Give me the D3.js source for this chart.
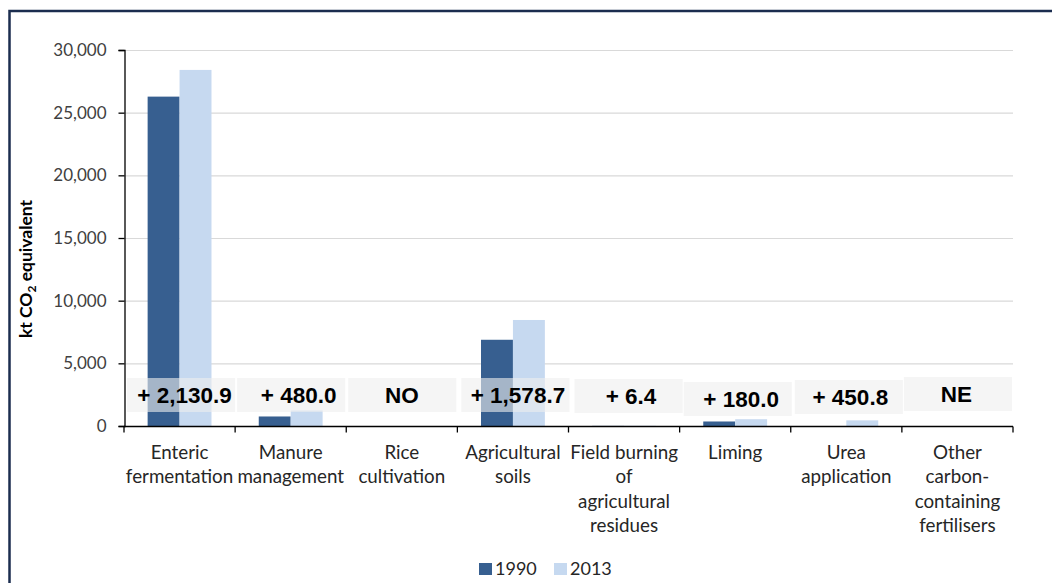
<!DOCTYPE html>
<html>
<head>
<meta charset="utf-8">
<script src="https://cdn.jsdelivr.net/npm/d3@7"></script>
<style>
  html, body { margin: 0; padding: 0; background: #fff; }
  svg { display: block; }
</style>
</head>
<body>
<svg id="chart" width="1052" height="583"></svg>
<script>
// Agricultural emissions by source category, kt CO2 equivalent
const categories = [
  "Enteric\nfermentation",
  "Manure\nmanagement",
  "Rice\ncultivation",
  "Agricultural\nsoils",
  "Field burning\nof\nagricultural\nresidues",
  "Liming",
  "Urea\napplication",
  "Other\ncarbon-\ncontaining\nfertilisers"
];
const seriesNames = ["1990", "2013"];
const values1990 = [26280, 760, 0, 6880, 10, 360, 0, 0];
const values2013 = [28410.9, 1240, 0, 8458.7, 16.4, 540, 450.8, 0];
const changeLabels = ["+ 2,130.9", "+ 480.0", "NO", "+ 1,578.7", "+ 6.4", "+ 180.0", "+ 450.8", "NE"];
const yTicks = [0, 5000, 10000, 15000, 20000, 25000, 30000];

const colors = { "1990": "#375f90", "2013": "#c6d9f0" };
const axisFont = "Lato, 'Open Sans', sans-serif";

const svg = d3.select("#chart");
const plot = { left: 124, right: 1013, top: 50, bottom: 426 };

// Outer frame
svg.append("rect")
  .attr("x", 9.5).attr("y", 11)
  .attr("width", 1200).attr("height", 700)
  .attr("fill", "none")
  .attr("stroke", "#1b2d4f")
  .attr("stroke-width", 2.5);

const x0 = d3.scaleBand()
  .domain(d3.range(categories.length))
  .range([plot.left, plot.right])
  .padding(0);

const x1 = d3.scaleBand()
  .domain(seriesNames)
  .range([0, x0.bandwidth()])
  .paddingInner(0)
  .paddingOuter(0.74);

const y = d3.scaleLinear()
  .domain([0, 30000])
  .range([plot.bottom, plot.top]);

// Horizontal gridlines
svg.append("g")
  .selectAll("line")
  .data(yTicks.filter(t => t > 0))
  .join("line")
  .attr("x1", plot.left).attr("x2", plot.right)
  .attr("y1", d => y(d) + 0.5).attr("y2", d => y(d) + 0.5)
  .attr("stroke", "#d9d9d9")
  .attr("stroke-width", 1.2);

// Bars
const rows = categories.map((c, i) => ({
  i,
  vals: [
    { key: "1990", v: values1990[i] },
    { key: "2013", v: values2013[i] }
  ]
}));

const groups = svg.append("g")
  .selectAll("g")
  .data(rows)
  .join("g")
  .attr("transform", d => `translate(${x0(d.i)},0)`);

groups.selectAll("rect")
  .data(d => d.vals)
  .join("rect")
  .attr("x", d => x1(d.key))
  .attr("width", x1.bandwidth())
  .attr("y", d => y(d.v))
  .attr("height", d => y(0) - y(d.v))
  .attr("fill", d => colors[d.key]);

// Y axis
const yAxis = d3.axisLeft(y)
  .tickValues(yTicks)
  .tickFormat(d3.format(","))
  .tickSize(6)
  .tickPadding(12);

const gy = svg.append("g")
  .attr("transform", `translate(${plot.left + 0.5},0)`)
  .call(yAxis);
gy.select(".domain").attr("stroke", "#000").attr("stroke-width", 1.3);
gy.selectAll(".tick line").attr("stroke", "#000").attr("stroke-width", 1.3);
gy.selectAll(".tick text")
  .attr("font-family", axisFont)
  .attr("font-size", 17)
  .attr("fill", "#404040");

// X axis with ticks at category boundaries
const gx = svg.append("g")
  .attr("transform", `translate(0,${plot.bottom + 0.5})`);
gx.append("line")
  .attr("x1", plot.left).attr("x2", plot.right)
  .attr("stroke", "#000").attr("stroke-width", 1.3);
const boundaries = d3.range(categories.length + 1).map(i =>
  i < categories.length ? x0(i) : x0(categories.length - 1) + x0.bandwidth());
gx.selectAll(".bt")
  .data(boundaries)
  .join("line")
  .attr("class", "bt")
  .attr("x1", d => d).attr("x2", d => d)
  .attr("y1", 0).attr("y2", 6)
  .attr("stroke", "#000").attr("stroke-width", 1.3);

// Category labels
const catText = gx.selectAll(".cat")
  .data(categories)
  .join("text")
  .attr("class", "cat")
  .attr("x", (d, i) => x0(i) + x0.bandwidth() / 2)
  .attr("y", 32)
  .attr("text-anchor", "middle")
  .attr("font-family", axisFont)
  .attr("font-size", 18.8)
  .attr("fill", "#262626");
catText.each(function(d) {
  const t = d3.select(this);
  d.split("\n").forEach((line, k) => {
    t.append("tspan")
      .attr("x", t.attr("x"))
      .attr("dy", k === 0 ? 0 : 24.5)
      .text(line);
  });
});

// Y axis title
const yTitle = svg.append("text")
  .attr("transform", "translate(32,269) rotate(-90)")
  .attr("text-anchor", "middle")
  .attr("font-family", axisFont)
  .attr("font-size", 17.5)
  .attr("font-weight", "bold")
  .attr("fill", "#000");
yTitle.append("tspan").text("kt CO");
yTitle.append("tspan").attr("font-size", 12).attr("dy", 4).text("2");
yTitle.append("tspan").attr("dy", -4).text(" equivalent");

// Change labels (1990 to 2013) in translucent boxes
const nudgeX = [1, 0, 0, 2, 4, 2, 2, 0];
const nudgeY = [0, 0, 0, 0, 1, 4, 2, -1];
const textDx = [4, 8, 0, 3, 3, 4, 2, -1];
const labels = svg.append("g")
  .selectAll("g")
  .data(changeLabels)
  .join("g")
  .attr("transform", (d, i) => `translate(${x0(i) + nudgeX[i]},${378 + nudgeY[i]})`);
labels.append("rect")
  .attr("x", 2)
  .attr("width", x0.bandwidth() - 3)
  .attr("height", 34)
  .attr("fill", "#eeeeee")
  .attr("fill-opacity", 0.6);
labels.append("text")
  .attr("x", (d, i) => x0.bandwidth() / 2 + textDx[i])
  .attr("y", 25)
  .attr("text-anchor", "middle")
  .attr("font-family", "'Liberation Sans', Arial, sans-serif")
  .attr("font-weight", "bold")
  .attr("font-size", 22.5)
  .attr("fill", "#000")
  .text(d => d);

// Legend
const legend = svg.append("g").attr("transform", "translate(479,563)");
const legendX = [0, 75];
seriesNames.forEach((s, k) => {
  const g = legend.append("g").attr("transform", `translate(${legendX[k]},0)`);
  g.append("rect").attr("width", 13).attr("height", 12).attr("fill", colors[s]);
  g.append("text")
    .attr("x", 16).attr("y", 12)
    .attr("font-family", axisFont)
    .attr("font-size", 18)
    .attr("fill", "#262626")
    .text(s);
});
</script>
</body>
</html>
